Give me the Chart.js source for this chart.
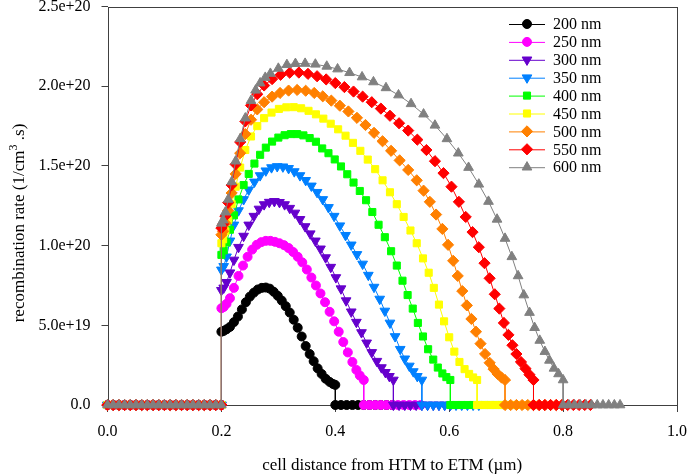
<!DOCTYPE html>
<html>
<head>
<meta charset="utf-8">
<script src="https://cdn.jsdelivr.net/npm/chart.js@4.4.1/dist/chart.umd.min.js"></script>
<style>
  html, body { margin: 0; padding: 0; background: #fff; }
  #wrap { width: 688px; height: 474px; }
</style>
</head>
<body>
<div id="wrap"><canvas id="recombChart" width="688" height="474"></canvas></div>
<script>
// absorber thickness series
const seriesNames = ['200 nm', '250 nm', '300 nm', '350 nm', '400 nm', '450 nm', '500 nm', '550 nm', '600 nm'];
const seriesColors = ['#000000', '#ff00ff', '#6600cc', '#0080ff', '#00ff00', '#ffff00', '#ff8000', '#ff0000', '#808080'];
const seriesMarkers = ['circle', 'circle', 'triangle', 'triangle', 'rect', 'rect', 'rectRot', 'rectRot', 'triangle'];
const markerRotation = [0, 0, 180, 180, 0, 0, 0, 0, 0];

// mesh points of the HTM layer (rate is zero there), and offsets inside the ETM layer
const htmX = [0, 0.01, 0.02, 0.03, 0.04, 0.05, 0.06, 0.07, 0.08, 0.09, 0.1, 0.11, 0.12, 0.13, 0.14, 0.15, 0.16, 0.17, 0.18, 0.19, 0.2];
const etmOffsets = [0, 0.01, 0.02, 0.03, 0.04, 0.05, 0.06, 0.07, 0.08, 0.09, 0.1];

// absorber values, rate in units of 1e20 1/cm3.s
const x200 = [0.200, 0.204, 0.209, 0.215, 0.222, 0.229, 0.236, 0.243, 0.250, 0.257, 0.264, 0.271, 0.278, 0.285, 0.292, 0.299, 0.306, 0.313, 0.320, 0.327, 0.334, 0.341, 0.348, 0.355, 0.362, 0.369, 0.376, 0.383, 0.390, 0.396, 0.400];
const y200 = [0.46, 0.465, 0.475, 0.49, 0.52, 0.555, 0.60, 0.645, 0.68, 0.705, 0.725, 0.735, 0.737, 0.73, 0.71, 0.685, 0.655, 0.62, 0.58, 0.535, 0.485, 0.43, 0.37, 0.32, 0.275, 0.23, 0.195, 0.165, 0.145, 0.132, 0.126];

const x250 = [0.200, 0.204, 0.209, 0.215, 0.222, 0.230, 0.238, 0.246, 0.254, 0.262, 0.270, 0.278, 0.286, 0.294, 0.302, 0.310, 0.318, 0.326, 0.334, 0.342, 0.350, 0.358, 0.366, 0.374, 0.382, 0.390, 0.398, 0.406, 0.414, 0.422, 0.430, 0.437, 0.443, 0.450];
const y250 = [0.607, 0.615, 0.635, 0.67, 0.735, 0.81, 0.875, 0.93, 0.975, 1.005, 1.022, 1.03, 1.03, 1.024, 1.015, 1.003, 0.985, 0.96, 0.93, 0.895, 0.85, 0.80, 0.75, 0.70, 0.645, 0.585, 0.525, 0.46, 0.395, 0.33, 0.27, 0.22, 0.185, 0.157];

const x300 = [0.200, 0.204, 0.209, 0.215, 0.222, 0.230, 0.239, 0.248, 0.257, 0.266, 0.275, 0.284, 0.293, 0.302, 0.311, 0.320, 0.329, 0.338, 0.347, 0.356, 0.365, 0.374, 0.383, 0.392, 0.401, 0.410, 0.419, 0.428, 0.437, 0.446, 0.455, 0.464, 0.473, 0.481, 0.488, 0.495, 0.502];
const y300 = [0.72, 0.735, 0.77, 0.83, 0.91, 0.99, 1.06, 1.13, 1.185, 1.23, 1.258, 1.273, 1.278, 1.272, 1.258, 1.235, 1.205, 1.165, 1.12, 1.075, 1.03, 0.98, 0.925, 0.865, 0.80, 0.73, 0.655, 0.585, 0.52, 0.455, 0.39, 0.33, 0.275, 0.235, 0.205, 0.18, 0.157];

const x350 = [0.200, 0.204, 0.209, 0.215, 0.222, 0.230, 0.239, 0.248, 0.258, 0.268, 0.278, 0.288, 0.298, 0.308, 0.318, 0.328, 0.338, 0.348, 0.358, 0.368, 0.378, 0.388, 0.398, 0.408, 0.418, 0.428, 0.438, 0.448, 0.458, 0.468, 0.478, 0.487, 0.496, 0.505, 0.514, 0.522, 0.530, 0.537, 0.544, 0.552];
const y350 = [0.848, 0.87, 0.93, 1.03, 1.13, 1.22, 1.29, 1.35, 1.40, 1.44, 1.47, 1.49, 1.497, 1.495, 1.485, 1.465, 1.44, 1.41, 1.375, 1.335, 1.29, 1.24, 1.185, 1.125, 1.065, 1.005, 0.945, 0.885, 0.815, 0.74, 0.665, 0.59, 0.515, 0.43, 0.35, 0.29, 0.245, 0.21, 0.18, 0.157];

const x400 = [0.200, 0.204, 0.209, 0.215, 0.222, 0.230, 0.239, 0.248, 0.258, 0.268, 0.278, 0.289, 0.300, 0.311, 0.322, 0.333, 0.344, 0.355, 0.366, 0.377, 0.388, 0.399, 0.410, 0.421, 0.432, 0.443, 0.454, 0.465, 0.476, 0.487, 0.498, 0.508, 0.518, 0.527, 0.536, 0.545, 0.554, 0.563, 0.572, 0.580, 0.588, 0.595, 0.602];
const y400 = [0.942, 0.97, 1.02, 1.10, 1.19, 1.29, 1.38, 1.45, 1.515, 1.57, 1.615, 1.653, 1.678, 1.693, 1.70, 1.70, 1.692, 1.675, 1.652, 1.61, 1.58, 1.541, 1.497, 1.448, 1.396, 1.343, 1.285, 1.211, 1.131, 1.053, 0.965, 0.875, 0.78, 0.69, 0.605, 0.515, 0.43, 0.35, 0.285, 0.235, 0.198, 0.175, 0.157];

const x450 = [0.200, 0.203, 0.207, 0.212, 0.218, 0.225, 0.233, 0.242, 0.252, 0.263, 0.275, 0.288, 0.301, 0.314, 0.327, 0.340, 0.353, 0.366, 0.379, 0.392, 0.405, 0.418, 0.431, 0.444, 0.457, 0.470, 0.483, 0.496, 0.508, 0.520, 0.532, 0.543, 0.554, 0.564, 0.573, 0.582, 0.591, 0.600, 0.609, 0.618, 0.627, 0.635, 0.642, 0.649];
const y450 = [1.015, 1.04, 1.09, 1.16, 1.26, 1.37, 1.49, 1.60, 1.685, 1.75, 1.80, 1.835, 1.858, 1.868, 1.869, 1.862, 1.846, 1.824, 1.797, 1.765, 1.73, 1.69, 1.645, 1.595, 1.54, 1.48, 1.41, 1.335, 1.26, 1.18, 1.095, 1.015, 0.92, 0.83, 0.735, 0.63, 0.525, 0.425, 0.335, 0.27, 0.225, 0.195, 0.173, 0.157];

const x500 = [0.200, 0.203, 0.207, 0.212, 0.218, 0.225, 0.233, 0.242, 0.252, 0.263, 0.275, 0.289, 0.303, 0.318, 0.333, 0.348, 0.363, 0.378, 0.393, 0.408, 0.423, 0.438, 0.453, 0.468, 0.483, 0.498, 0.513, 0.528, 0.543, 0.555, 0.566, 0.577, 0.588, 0.598, 0.607, 0.615, 0.623, 0.631, 0.639, 0.647, 0.655, 0.663, 0.671, 0.678, 0.685, 0.692, 0.698];
const y500 = [1.068, 1.09, 1.14, 1.22, 1.33, 1.45, 1.58, 1.70, 1.79, 1.855, 1.90, 1.935, 1.958, 1.973, 1.977, 1.972, 1.958, 1.937, 1.91, 1.878, 1.842, 1.802, 1.757, 1.708, 1.655, 1.595, 1.535, 1.475, 1.41, 1.345, 1.275, 1.195, 1.105, 1.005, 0.905, 0.81, 0.715, 0.625, 0.54, 0.46, 0.385, 0.32, 0.265, 0.225, 0.195, 0.172, 0.157];

const x550 = [0.200, 0.203, 0.207, 0.212, 0.218, 0.225, 0.233, 0.242, 0.252, 0.263, 0.275, 0.289, 0.304, 0.320, 0.336, 0.352, 0.368, 0.384, 0.400, 0.416, 0.432, 0.448, 0.464, 0.480, 0.496, 0.512, 0.528, 0.544, 0.560, 0.575, 0.590, 0.604, 0.617, 0.629, 0.641, 0.652, 0.662, 0.671, 0.680, 0.688, 0.696, 0.704, 0.711, 0.718, 0.726, 0.734, 0.741, 0.748];
const y550 = [1.11, 1.135, 1.185, 1.27, 1.38, 1.51, 1.65, 1.78, 1.88, 1.95, 2.005, 2.045, 2.072, 2.085, 2.086, 2.078, 2.063, 2.043, 2.02, 1.995, 1.967, 1.935, 1.90, 1.86, 1.815, 1.768, 1.722, 1.665, 1.60, 1.53, 1.455, 1.37, 1.275, 1.18, 1.085, 0.99, 0.89, 0.795, 0.695, 0.605, 0.515, 0.44, 0.375, 0.32, 0.27, 0.228, 0.19, 0.157];

const x600 = [0.200, 0.203, 0.207, 0.212, 0.218, 0.225, 0.233, 0.242, 0.252, 0.260, 0.268, 0.277, 0.286, 0.300, 0.315, 0.330, 0.347, 0.365, 0.385, 0.404, 0.425, 0.447, 0.467, 0.489, 0.511, 0.533, 0.555, 0.575, 0.596, 0.616, 0.634, 0.652, 0.669, 0.684, 0.698, 0.710, 0.721, 0.731, 0.741, 0.750, 0.759, 0.768, 0.776, 0.784, 0.792, 0.800];
const y600 = [1.14, 1.16, 1.21, 1.29, 1.40, 1.53, 1.67, 1.80, 1.91, 1.975, 2.02, 2.055, 2.08, 2.112, 2.135, 2.142, 2.143, 2.138, 2.125, 2.108, 2.085, 2.058, 2.027, 1.99, 1.945, 1.89, 1.825, 1.755, 1.67, 1.58, 1.49, 1.385, 1.277, 1.165, 1.045, 0.93, 0.81, 0.69, 0.58, 0.485, 0.405, 0.335, 0.28, 0.23, 0.195, 0.157];

const absorberX = [x200, x250, x300, x350, x400, x450, x500, x550, x600];
const absorberY = [y200, y250, y300, y350, y400, y450, y500, y550, y600];
const RATE_UNIT = 1e20;

// axis ticks
const xTicks = [0, 0.2, 0.4, 0.6, 0.8, 1.0];
const yTickLabels = ['0.0', '5.0e+19', '1.0e+20', '1.5e+20', '2.0e+20', '2.5e+20'];

const markerSize = { circle: 4.5, triangle: 5.6, rect: 5, rectRot: 5.6 };

const datasets = seriesNames.map(function (name, i) {
    const xs = absorberX[i];
    const end = xs[xs.length - 1];
    const pts = htmX.map(function (x) { return { x: x, y: 0 }; })
        .concat(xs.map(function (x, k) { return { x: x, y: absorberY[i][k] * RATE_UNIT }; }))
        .concat(etmOffsets.map(function (o) { return { x: end + o, y: 0 }; }));
    return {
        label: name,
        data: pts,
        borderColor: seriesColors[i],
        backgroundColor: seriesColors[i],
        borderWidth: 1,
        pointStyle: seriesMarkers[i],
        pointRotation: markerRotation[i],
        pointRadius: markerSize[seriesMarkers[i]],
        pointBorderWidth: 1,
        pointBorderColor: seriesColors[i],
        pointBackgroundColor: seriesColors[i],
        tension: 0,
        clip: false,
        order: seriesNames.length - i   // later thickness drawn on top
    };
});

const FRAME = '#404040';
const SERIF = "'Liberation Serif', 'Times New Roman', serif";

function drawMarker(ctx, style, rot, r, x, y) {
    ctx.beginPath();
    if (style === 'circle') {
        ctx.arc(x, y, r, 0, Math.PI * 2);
    } else if (style === 'triangle') {
        let a = rot * Math.PI / 180;
        for (let k = 0; k < 3; k++) {
            const px = x + Math.sin(a) * r, py = y - Math.cos(a) * r;
            if (k === 0) ctx.moveTo(px, py); else ctx.lineTo(px, py);
            a += Math.PI * 2 / 3;
        }
        ctx.closePath();
    } else if (style === 'rect') {
        const h = r * Math.SQRT1_2;
        ctx.rect(x - h, y - h, 2 * h, 2 * h);
    } else {
        ctx.moveTo(x, y - r); ctx.lineTo(x + r, y); ctx.lineTo(x, y + r); ctx.lineTo(x - r, y);
        ctx.closePath();
    }
    ctx.fill();
    ctx.stroke();
}

const framePlugin = {
    id: 'frame',
    beforeDatasetsDraw: function (chart) {
        const a = chart.chartArea, ctx = chart.ctx;
        ctx.save();
        ctx.strokeStyle = FRAME;
        ctx.lineWidth = 1;
        ctx.strokeRect(Math.round(a.left) + 0.5, Math.round(a.top) + 0.5,
            Math.round(a.right - a.left) - 1, Math.round(a.bottom - a.top));
        ctx.restore();
    }
};

const legendPlugin = {
    id: 'innerLegend',
    afterDatasetsDraw: function (chart) {
        const ctx = chart.ctx;
        ctx.save();
        ctx.font = '16px ' + SERIF;
        ctx.textBaseline = 'middle';
        ctx.textAlign = 'left';
        seriesNames.forEach(function (name, i) {
            const y = 24 + i * 17.9;
            ctx.strokeStyle = seriesColors[i];
            ctx.fillStyle = seriesColors[i];
            ctx.lineWidth = 1;
            ctx.beginPath();
            ctx.moveTo(509, y + 0.5); ctx.lineTo(545, y + 0.5);
            ctx.stroke();
            drawMarker(ctx, seriesMarkers[i], markerRotation[i], markerSize[seriesMarkers[i]], 527, y);
            ctx.fillStyle = '#000';
            ctx.fillText(name, 553, y + 1);
        });
        ctx.restore();
    }
};

const titlePlugin = {
    id: 'axisTitles',
    afterDraw: function (chart) {
        const ctx = chart.ctx, a = chart.chartArea;
        ctx.save();
        ctx.fillStyle = '#000';
        ctx.font = '17px ' + SERIF;
        ctx.textAlign = 'center';
        ctx.textBaseline = 'middle';
        ctx.fillText('cell distance from HTM to ETM (µm)', (a.left + a.right) / 2, 466);

        // y title with superscript 3
        ctx.translate(20, 223);
        ctx.rotate(-Math.PI / 2);
        const p1 = 'recombination rate (1/cm', p2 = '3', p3 = ' .s)';
        ctx.font = '17px ' + SERIF;
        const w1 = ctx.measureText(p1).width, w3 = ctx.measureText(p3).width;
        ctx.font = '12px ' + SERIF;
        const w2 = ctx.measureText(p2).width;
        let x = -(w1 + w2 + w3) / 2;
        ctx.textAlign = 'left';
        ctx.font = '17px ' + SERIF;
        ctx.fillText(p1, x, 0);
        x += w1;
        ctx.font = '12px ' + SERIF;
        ctx.fillText(p2, x, -6);
        x += w2;
        ctx.font = '17px ' + SERIF;
        ctx.fillText(p3, x, 0);
        ctx.restore();
    }
};

new Chart(document.getElementById('recombChart').getContext('2d'), {
    type: 'line',
    data: { datasets: datasets },
    options: {
        responsive: false,
        animation: false,
        events: [],
        // half-pixel left offset keeps the vertical jumps crisp
        layout: { padding: { left: 0.5, right: 11, top: 6, bottom: 0 } },
        plugins: {
            legend: { display: false },
            tooltip: { enabled: false }
        },
        scales: {
            x: {
                type: 'linear',
                min: 0,
                max: 1,
                afterBuildTicks: function (scale) {
                    scale.ticks = xTicks.map(function (v) { return { value: v }; });
                },
                afterFit: function (scale) {
                    scale.height = 69;
                    scale.paddingLeft = 0;
                    scale.paddingRight = 0;
                },
                border: { display: false },
                grid: { display: true, drawOnChartArea: false, drawTicks: true, tickLength: 7, color: FRAME },
                ticks: {
                    padding: 10,
                    color: '#000',
                    font: { family: SERIF, size: 16 },
                    maxRotation: 0,
                    callback: function (value) { return value.toFixed(1); }
                }
            },
            y: {
                type: 'linear',
                min: 0,
                max: 2.5 * RATE_UNIT,
                afterBuildTicks: function (scale) {
                    scale.ticks = yTickLabels.map(function (t, k) { return { value: k * 0.5 * RATE_UNIT }; });
                },
                afterFit: function (scale) {
                    scale.width = 107;
                    scale.paddingTop = 0;
                    scale.paddingBottom = 0;
                },
                border: { display: false },
                grid: { display: true, drawOnChartArea: false, drawTicks: true, tickLength: 6, color: FRAME },
                ticks: {
                    padding: 11,
                    color: '#000',
                    font: { family: SERIF, size: 16 },
                    callback: function (value, index) { return yTickLabels[index]; }
                }
            }
        }
    },
    plugins: [framePlugin, legendPlugin, titlePlugin]
});
</script>
</body>
</html>
